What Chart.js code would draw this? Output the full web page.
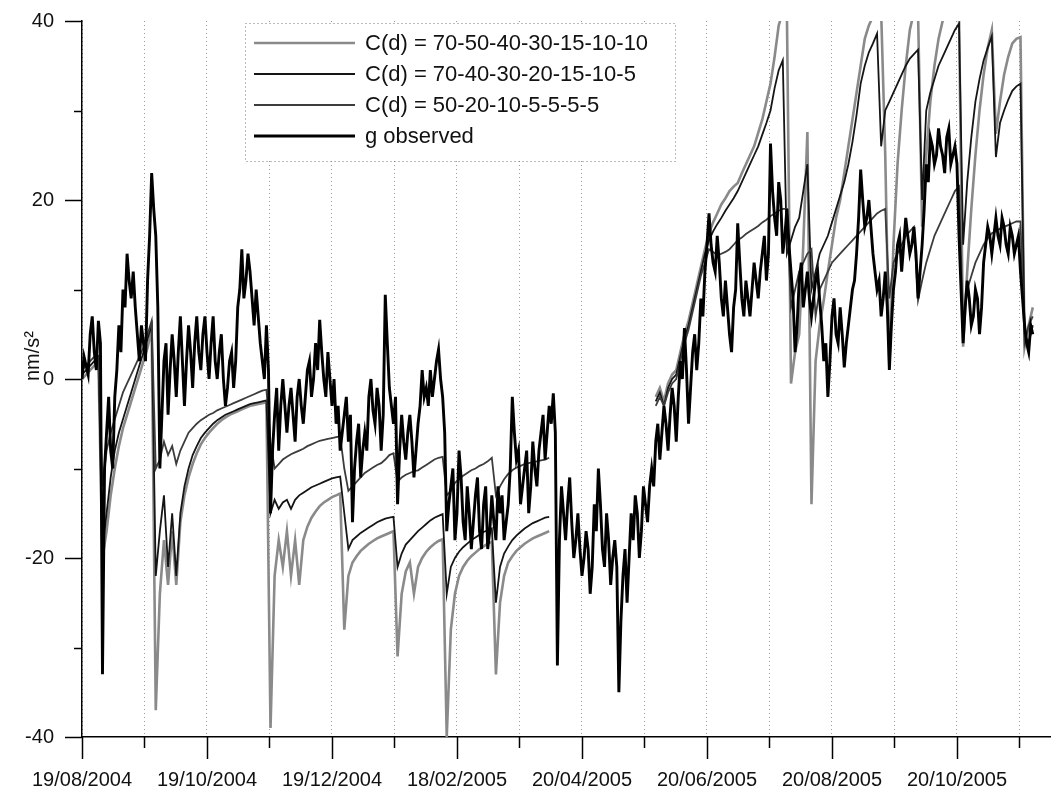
<!DOCTYPE html>
<html>
<head>
<meta charset="utf-8">
<title>g observed vs C(d) models</title>
<script src="https://cdn.jsdelivr.net/npm/chart.js@4.4.1/dist/chart.umd.min.js"></script>
<style>
  html, body { margin: 0; padding: 0; background: #fff; }
  #wrap { width: 1055px; height: 792px; }
</style>
</head>
<body>
<div id="wrap"><canvas id="gravityChart" width="1055" height="792"></canvas></div>
<script>
// days between samples, counted from 19/08/2004
const obsStepDays = 1;
const modelStepDays = 2;

// x axis: a tick every 30.5 days, a date label on every second one
const xTickDays = [0, 30.5, 61, 91.5, 122, 152.5, 183, 213.5, 244, 274.5, 305, 335.5, 366, 396.5, 427, 457.5];
const xTickLabels = ['19/08/2004', '19/10/2004', '19/12/2004', '18/02/2005', '20/04/2005', '20/06/2005', '20/08/2005', '20/10/2005'];

const seriesNames = [
  'C(d) = 70-50-40-30-15-10-10',
  'C(d) = 70-40-30-20-15-10-5',
  'C(d) = 50-20-10-5-5-5-5',
  'g observed'
];

// g observed (nm/s2), daily
const gObserved = [
  0, 2.5, 1.5, 0.5, 5, 7, 3, 1, 6.5, 4,
  -33, -10, -6, -2, -8, -10, -2, 1, 6, 3,
  10, 8, 14, 11, 9, 12, 8, 5, 2, 6,
  4, 2, 11, 16, 23, 19, 16, 8, -10, -4,
  2, 4, -4, 1, 5, 2, -2, 3, 7, 2,
  -3, 2, 6, 3, -1, 4, 7, 3, 1, 5,
  7, 3, 0, 4, 7, 2, 0, 3, 5, 0,
  -3, -1, 2, 3, -1, 2, 8, 10, 14.5, 9,
  11, 14, 12, 9, 6, 10, 7, 4, 2, 0,
  6, 1, -15, -8, -4, -1, -8, -3, 0, -3,
  -6, -3, -1, -4, -7, -2, 0, -3, -5, -2,
  1, 2, -2, 0, 4, 1, 6.6, 3, 0, -2,
  3, 0, -3, 0, -5, -3, -8, -6, -4, -2,
  -7, -4, -16, -10, -7, -5, -11, -8, -6, -8,
  -2, 0, -3.5, -5, -1, -3, -8, -4, 9.4, 4,
  -1, -3, -5, -2, -14, -8, -4, -7, -9, -6,
  -4, -7, -11, -8, -5, -3, 1, -2, -1, -3,
  1, -2, 0, 2, 3.3, 0, -2, -6, -17, -14,
  -12, -10, -18, -15, -8, -11, -16, -18, -12, -15,
  -19, -16, -13, -11, -17, -19, -14, -12, -19, -17,
  -13, -16, -18, -12, -15, -13, -18, -16, -14, -10,
  -2, -6, -9, -8, -14, -12, -10, -8, -15, -12,
  -7, -10, -12, -8, -6, -4, -9, -6, -3, -5,
  -1.6, -6, -32, -18, -12, -15, -18, -14, -11, -16,
  -20, -18, -15, -19, -22, -20, -17, -19, -24, -21,
  -14, -17, -10, -14, -19, -21, -15, -18, -23, -20,
  -18, -21, -35, -27, -22, -19, -25, -20, -15, -18,
  -13, -15, -20, -17, -12, -14, -16, -12, -10, -12,
  -7, -5, -9, -6, -3, -5, -8, -4, -1, -3,
  -7, -2, 2, 0, 5.7, 1, -5, -1, 3, 5,
  1, 4, 9, 7, 12, 15, 18.5, 15, 13, 12,
  16, 13, 9, 7, 11, 8, 5, 3, 8, 10,
  17.4, 13, 9, 7, 11, 9, 7, 10, 13, 11,
  9, 12, 14, 16, 11, 14, 26.3, 21, 18, 16,
  22, 20, 14, 16, 19, 15, 12, 9, 3, 6,
  11, 13, 8, 10, 12, 9, 7, 9, 11, 12,
  8.8, 6, 2, 4, -2, 2, 7, 9, 5, 4,
  8, 5, 1.3, 4, 6, 8, 10, 11, 14, 18,
  23.4, 20, 17, 18, 20, 17, 14, 12, 10, 11,
  7, 9, 12, 8, 1, 6, 10, 12, 15, 16,
  12, 15, 18, 16, 14, 15, 17, 14, 9, 12,
  15, 19, 24, 22, 27, 26, 24, 25, 28, 26,
  25, 23, 27, 28, 24, 25, 26, 24, 16, 10,
  4, 8, 11, 9, 6, 7, 10, 9, 5, 8,
  13, 15, 17, 16, 14, 16, 18, 16, 15, 18,
  17, 15, 14, 17, 16, 14, 15, 16, 12, 9,
  6, 4, 3, 6, 5
];

// C(d) = 70-50-40-30-15-10-10, every 2 days
const model1 = [
  0, 0.5, 1, 1.5, 2, -20, -17, -13, -10, -7.5,
  -5.5, -4, -2.5, -1, 0.5, 2, 3.5, 5.5, -37, -24,
  -18, -23, -17, -23, -16, -13, -11, -9.5, -8.3, -7.3,
  -6.6, -6, -5.5, -5, -4.6, -4.3, -4, -3.8, -3.6, -3.4,
  -3.2, -3, -2.9, -2.8, -2.7, -2.6, -39, -22, -18, -21,
  -17, -22, -18, -23, -18, -16.5, -15.5, -14.8, -14.2, -13.8,
  -13.5, -13.2, -13, -12.8, -28, -22, -20.5, -19.8, -19.2, -18.8,
  -18.4, -18.1, -17.8, -17.6, -17.4, -17.2, -17, -31, -24, -21.5,
  -20.5, -24, -21, -20, -19.3, -18.8, -18.4, -18.1, -17.9, -40,
  -28, -24, -22, -21, -20.3, -19.8, -19.4, -19, -18.7, -18.4,
  -18.2, -33, -25, -22, -20.5, -19.8, -19.2, -18.8, -18.4, -18.1,
  -17.8, -17.6, -17.4, -17.2, -17, null, null, null, null, null,
  null, null, null, null, null, null, null, null, null, null,
  null, null, null, null, null, null, null, null, null, null,
  -2, -1, -2.5, -0.5, 0.5, 1, 3, 5, 6.5, 8.5,
  10.5, 12.5, 14.5, 16.3, 17.5, 18.5, 19.5, 20.2, 21, 21.5,
  21.9, 23, 24, 25, 26, 27.5, 29, 31, 33, 36,
  39.5, 41, 41, -0.5, 3, 5, 15, 27.6, -14, 2,
  6, 8.8, 12, 15, 18, 20, 23, 26, 29, 32,
  35, 38, 39.5, 40.5, 41, 41, 25, 1.4, 15, 24,
  30, 35, 39, 41, 41, 17, 25, 31, 35, 38,
  40, 41, 42, 42, 41, 3.6, 12, 19, 25, 30,
  34, 37, 39, 27.4, 31, 34, 36, 37.5, 38, 38.2,
  3.6, 6, 8
];

// C(d) = 70-40-30-20-15-10-5, every 2 days
const model2 = [
  0.5, 1, 1.5, 2, 2.5, -19, -15, -11, -8, -6,
  -4.5, -3, -1.5, 0, 1.5, 3, 4.5, 6, -22, -17,
  -13, -21, -15, -22, -15, -12, -10, -8.5, -7.5, -6.6,
  -6, -5.5, -5, -4.6, -4.3, -4, -3.8, -3.6, -3.4, -3.2,
  -3, -2.8, -2.7, -2.6, -2.5, -2.4, -15, -13.5, -14.5, -13.8,
  -13.5, -14.5, -13.5, -13, -12.7, -12.4, -12.1, -11.9, -11.7, -11.5,
  -11.3, -11.1, -11, -10.9, -15, -19, -18, -17.6, -17.2, -16.9,
  -16.6, -16.3, -16, -15.8, -15.6, -15.5, -15.4, -21, -19.5, -18.5,
  -18, -17.5, -17, -16.6, -16.2, -15.8, -15.5, -15.3, -15.1, -24,
  -21, -20, -19.3, -18.8, -18.4, -18, -17.7, -17.4, -17.1, -16.9,
  -16.7, -25, -21, -19.5, -18.7, -18, -17.5, -17.1, -16.7, -16.4,
  -16.1, -15.9, -15.7, -15.5, -15.4, null, null, null, null, null,
  null, null, null, null, null, null, null, null, null, null,
  null, null, null, null, null, null, null, null, null, null,
  -2.5, -1.5, -3, -1, 0, 0.5, 2.5, 4.5, 6, 8,
  10, 12, 14, 15.5, 16.5, 17.3, 18, 18.8, 19.5, 20.2,
  21, 22, 23, 24, 25, 26, 27.3, 28.6, 30, 32.5,
  34.5, 35.6, 14, 15.5, 17, 18, 21, 24, 10, 12,
  14, 15, 16, 17.5, 19, 20.5, 22, 24, 26.5, 29.5,
  33, 35, 36.5, 37.5, 38.6, 26, 30, 31, 32, 33,
  34, 35, 35.8, 36.3, 36.8, 20, 30, 32, 33.5, 35,
  36, 37, 38, 39, 39.7, 15, 22, 27, 31, 33.5,
  35.6, 37, 38.3, 24.8, 28.6, 30, 31.2, 32.2, 32.7, 33,
  5, 4, 6
];

// C(d) = 50-20-10-5-5-5-5, every 2 days
const model3 = [
  1, 1.5, 2, 2.5, 2.5, -12, -8, -6, -4.5, -3,
  -1.5, -0.5, 0.5, 1.5, 2.5, 3.5, 5, 6.5, -10, -9,
  -7, -8.5, -7.5, -9.5, -8, -7, -6, -5.5, -5, -4.6,
  -4.3, -4, -3.8, -3.5, -3.3, -3.1, -2.9, -2.7, -2.5, -2.3,
  -2.1, -1.9, -1.7, -1.5, -1.3, -1.2, -7, -10, -9.5, -9,
  -8.7, -8.4, -8.2, -8, -7.8, -7.5, -7.3, -7.1, -6.9, -6.8,
  -6.7, -6.6, -6.5, -6.4, -10, -12.5, -12, -11.5, -11, -10.5,
  -10.2, -9.9, -9.6, -9.4, -9, -8.5, -8.3, -11.5, -11, -10.7,
  -10.5, -10.3, -10.2, -9.9, -9.6, -9.3, -9, -8.8, -8.7, -13,
  -12.5, -11.6, -11.2, -10.8, -10.5, -10.2, -10, -9.7, -9.5, -9.2,
  -8.8, -13, -12, -11.2, -10.6, -10.2, -9.9, -9.7, -9.5, -9.4,
  -9.3, -9.2, -9.1, -9, -8.8, null, null, null, null, null,
  null, null, null, null, null, null, null, null, null, null,
  null, null, null, null, null, null, null, null, null, null,
  -3, -2, -3, -1.5, -0.5, 0, 2, 4, 5.5, 7.5,
  9.5, 11.5, 13, 14.5, 14.2, 13.8, 14, 14.2, 14.5, 15,
  15.5, 15.8, 16.2, 16.5, 16.8, 17.1, 17.5, 17.8, 18.2, 18.5,
  18.8, 19, 19, 8, 10, 12, 13, 14, 14.5, 7,
  10, 11, 12, 13, 13.5, 14, 14.5, 15, 15.5, 16,
  16.5, 17, 17.5, 18, 18.5, 18.8, 19, 9, 13, 14,
  15, 16, 16.5, 17, 8.8, 11, 13, 14.5, 16, 17,
  18, 19, 20, 21, 21.5, 6, 10, 11.5, 13, 14,
  15, 15.7, 16.3, 16.5, 16.8, 17, 17.2, 17.4, 17.6, 17.6,
  4, 6, 7
];

const FONT = '"Liberation Sans", Arial, Helvetica, sans-serif';

function toPoints(values, step) {
  return values.map((v, i) => ({x: i * step, y: v}));
}

// ticks of two lengths, y axis title and the boxed legend
const decorPlugin = {
  id: 'decor',
  afterDraw(chart) {
    const {ctx, chartArea} = chart;
    const xs = chart.scales.x;
    const ys = chart.scales.y;
    ctx.save();
    ctx.strokeStyle = '#000';
    ctx.lineWidth = 1.5;
    xs.ticks.forEach((t, k) => {
      const px = Math.round(xs.getPixelForValue(t.value)) + 0.5;
      const len = k % 2 === 0 ? 22 : 11;
      ctx.beginPath();
      ctx.moveTo(px, chartArea.bottom);
      ctx.lineTo(px, chartArea.bottom + len);
      ctx.stroke();
    });
    ys.ticks.forEach(t => {
      const py = Math.round(ys.getPixelForValue(t.value)) + 0.5;
      const len = t.value % 20 === 0 ? 17 : 8;
      ctx.beginPath();
      ctx.moveTo(chartArea.left - len, py);
      ctx.lineTo(chartArea.left, py);
      ctx.stroke();
    });

    // y title
    ctx.save();
    ctx.translate(33, 356);
    ctx.rotate(-Math.PI / 2);
    ctx.fillStyle = '#111';
    ctx.font = '20px ' + FONT;
    ctx.textAlign = 'center';
    ctx.textBaseline = 'middle';
    ctx.fillText('nm/s²', 0, 0);
    ctx.restore();

    // legend box
    const box = {left: 245, top: 23, right: 675, bottom: 161};
    ctx.fillStyle = '#fff';
    ctx.fillRect(box.left, box.top, box.right - box.left, box.bottom - box.top);
    ctx.setLineDash([1, 3]);
    ctx.lineWidth = 1;
    ctx.strokeStyle = '#777';
    ctx.strokeRect(box.left + 0.5, box.top + 0.5, box.right - box.left, box.bottom - box.top);
    ctx.setLineDash([]);

    const rowY = [43, 74, 105, 136];
    chart.data.datasets.forEach((ds, i) => {
      ctx.strokeStyle = ds.borderColor;
      ctx.lineWidth = ds.borderWidth;
      ctx.beginPath();
      ctx.moveTo(254, rowY[i]);
      ctx.lineTo(355, rowY[i]);
      ctx.stroke();
      ctx.fillStyle = '#111';
      ctx.font = '22px ' + FONT;
      ctx.textAlign = 'left';
      ctx.textBaseline = 'middle';
      ctx.fillText(ds.label, 365, rowY[i] + 1);
    });
    ctx.restore();
  }
};

const ctx = document.getElementById('gravityChart');
const gravityChart = new Chart(ctx, {
  type: 'line',
  data: {
    datasets: [
      {label: seriesNames[0], data: toPoints(model1, modelStepDays), borderColor: '#8a8a8a', borderWidth: 2.6, order: 3},
      {label: seriesNames[1], data: toPoints(model2, modelStepDays), borderColor: '#151515', borderWidth: 1.8, order: 2},
      {label: seriesNames[2], data: toPoints(model3, modelStepDays), borderColor: '#3c3c3c', borderWidth: 1.8, order: 1},
      {label: seriesNames[3], data: toPoints(gObserved, obsStepDays), borderColor: '#000000', borderWidth: 2.9, order: 0}
    ]
  },
  options: {
    responsive: false,
    animation: false,
    devicePixelRatio: 1,
    layout: {padding: {left: 0, top: 21, right: 5, bottom: 0}},
    elements: {
      point: {radius: 0},
      line: {tension: 0, borderJoinStyle: 'miter'}
    },
    plugins: {
      legend: {display: false},
      tooltip: {enabled: false}
    },
    scales: {
      x: {
        type: 'linear',
        min: 0,
        max: 472.4,
        afterBuildTicks: scale => { scale.ticks = xTickDays.map(v => ({value: v})); },
        afterFit: scale => { scale.height = 55; },
        grid: {color: '#9a9a9a', lineWidth: 1, drawTicks: false},
        border: {display: true, color: '#000', width: 1.5, dash: [1, 3]},
        ticks: {
          autoSkip: false,
          maxRotation: 0,
          padding: 31,
          color: '#111',
          font: {family: FONT, size: 20},
          callback: (value, index) => index % 2 === 0 ? xTickLabels[index / 2] : ''
        }
      },
      y: {
        min: -40,
        max: 40,
        afterFit: scale => { scale.width = 82; },
        // tick marks are drawn by the plugin; the hidden tick length only offsets the labels
        grid: {display: false, drawTicks: true, tickLength: 28},
        border: {display: true, color: '#000', width: 1.5},
        ticks: {
          stepSize: 10,
          padding: 0,
          color: '#111',
          font: {family: FONT, size: 20},
          callback: value => value % 20 === 0 ? String(value) : ''
        }
      }
    }
  },
  plugins: [decorPlugin]
});
</script>
</body>
</html>
